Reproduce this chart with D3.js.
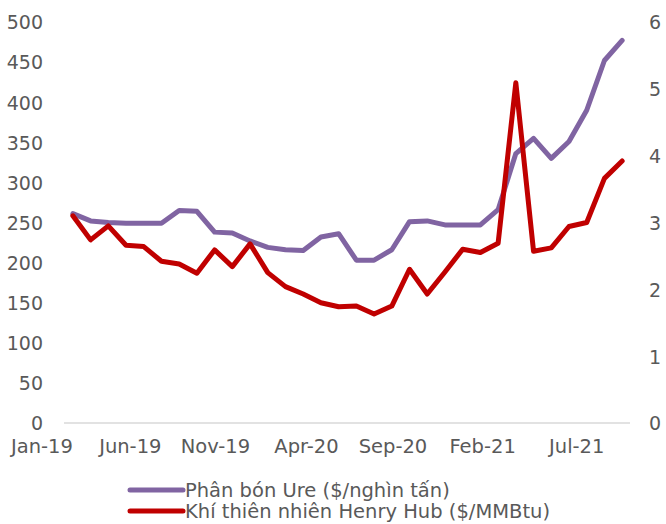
<!DOCTYPE html>
<html>
<head>
<meta charset="utf-8">
<script src="https://cdn.jsdelivr.net/npm/d3@7"></script>
<style>
  body { margin: 0; background: #fff; }
  svg text { font-family: "DejaVu Sans", sans-serif; fill: #595959; }
</style>
</head>
<body>
<div id="chart"></div>
<script>
// Monthly categories Jan-19 .. Aug-21
const months = ['Jan-19','Feb-19','Mar-19','Apr-19','May-19','Jun-19','Jul-19','Aug-19','Sep-19','Oct-19','Nov-19','Dec-19',
  'Jan-20','Feb-20','Mar-20','Apr-20','May-20','Jun-20','Jul-20','Aug-20','Sep-20','Oct-20','Nov-20','Dec-20',
  'Jan-21','Feb-21','Mar-21','Apr-21','May-21','Jun-21','Jul-21','Aug-21'];

// Urea price ($/thousand tonnes) - left axis
const ureValues = [261, 252, 250, 249, 249, 249, 265, 264, 238, 237, 227, 219,
  216, 215, 232, 236, 203, 203, 216, 251, 252, 247, 247, 247,
  266, 336, 355, 330, 351, 390, 452, 477];

// Henry Hub gas ($/MMBtu) - right axis
const gasValues = [3.10, 2.74, 2.95, 2.66, 2.64, 2.42, 2.38, 2.24, 2.59, 2.34, 2.68, 2.25,
  2.04, 1.93, 1.80, 1.74, 1.75, 1.63, 1.75, 2.30, 1.93, 2.26, 2.60, 2.55,
  2.69, 5.09, 2.57, 2.62, 2.94, 3.00, 3.66, 3.92];

const leftTicks = [0, 50, 100, 150, 200, 250, 300, 350, 400, 450, 500];
const rightTicks = [0, 1, 2, 3, 4, 5, 6];
const xTickLabels = ['Jan-19', 'Jun-19', 'Nov-19', 'Apr-20', 'Sep-20', 'Feb-21', 'Jul-21'];

const legendNames = ['Phân bón Ure ($/nghìn tấn)', 'Khí thiên nhiên Henry Hub ($/MMBtu)'];
const colors = ['#8064A2', '#C00000'];

const width = 666, height = 524;
const plot = { left: 64, right: 631, top: 22, bottom: 423 };

const svg = d3.select('#chart')
  .append('svg')
  .attr('width', width)
  .attr('height', height);

// Scales
const x = d3.scaleBand()
  .domain(months)
  .range([plot.left, plot.right]);

const yLeft = d3.scaleLinear()
  .domain([0, 500])
  .range([plot.bottom, plot.top]);

const yRight = d3.scaleLinear()
  .domain([0, 6])
  .range([plot.bottom, plot.top]);

// Baseline
svg.append('line')
  .attr('x1', plot.left)
  .attr('x2', plot.right - 1)
  .attr('y1', plot.bottom)
  .attr('y2', plot.bottom)
  .attr('stroke', '#d9d9d9')
  .attr('stroke-width', 1.5);

// Left axis labels
const leftAxis = svg.append('g')
  .attr('transform', `translate(${plot.left - 21},0)`)
  .call(d3.axisLeft(yLeft).tickValues(leftTicks).tickSize(0).tickPadding(0));
leftAxis.select('.domain').remove();
leftAxis.selectAll('text').style('font-size', '19px').attr('dy', '0.36em');

// Right axis labels
const rightAxis = svg.append('g')
  .attr('transform', `translate(${plot.right + 18},0)`)
  .call(d3.axisRight(yRight).tickValues(rightTicks).tickFormat(d3.format('d')).tickSize(0).tickPadding(0));
rightAxis.select('.domain').remove();
rightAxis.selectAll('text').style('font-size', '19px').attr('dy', '0.36em');

// Bottom axis labels (text ends at the category centre)
const xAxis = svg.append('g')
  .attr('transform', `translate(0,${plot.bottom})`)
  .call(d3.axisBottom(x).tickValues(xTickLabels).tickSize(0).tickPadding(0));
xAxis.select('.domain').remove();
xAxis.selectAll('text')
  .style('font-size', '19.5px')
  .attr('text-anchor', 'end')
  .attr('x', 0)
  .attr('y', 30)
  .attr('dy', '0');

// Lines
const xc = d => x(d) + x.bandwidth() / 2;

const ureLine = d3.line()
  .x((d, i) => xc(months[i]))
  .y(d => yLeft(d));

const gasLine = d3.line()
  .x((d, i) => xc(months[i]))
  .y(d => yRight(d));

svg.append('path')
  .datum(ureValues)
  .attr('fill', 'none')
  .attr('stroke', colors[0])
  .attr('stroke-width', 5)
  .attr('stroke-linejoin', 'round')
  .attr('stroke-linecap', 'round')
  .attr('d', ureLine);

svg.append('path')
  .datum(gasValues)
  .attr('fill', 'none')
  .attr('stroke', colors[1])
  .attr('stroke-width', 5)
  .attr('stroke-linejoin', 'round')
  .attr('stroke-linecap', 'round')
  .attr('d', gasLine);

// Legend
const legend = svg.append('g').attr('transform', 'translate(130,490)');
legendNames.forEach((name, i) => {
  const row = legend.append('g').attr('transform', `translate(0,${i * 21})`);
  row.append('line')
    .attr('x1', 0).attr('x2', 53)
    .attr('y1', 0).attr('y2', 0)
    .attr('stroke', colors[i])
    .attr('stroke-width', 5)
    .attr('stroke-linecap', 'round');
  row.append('text')
    .attr('x', 55)
    .attr('y', 0)
    .attr('dy', '0.35em')
    .style('font-size', '19.5px')
    .text(name);
});
</script>
</body>
</html>
